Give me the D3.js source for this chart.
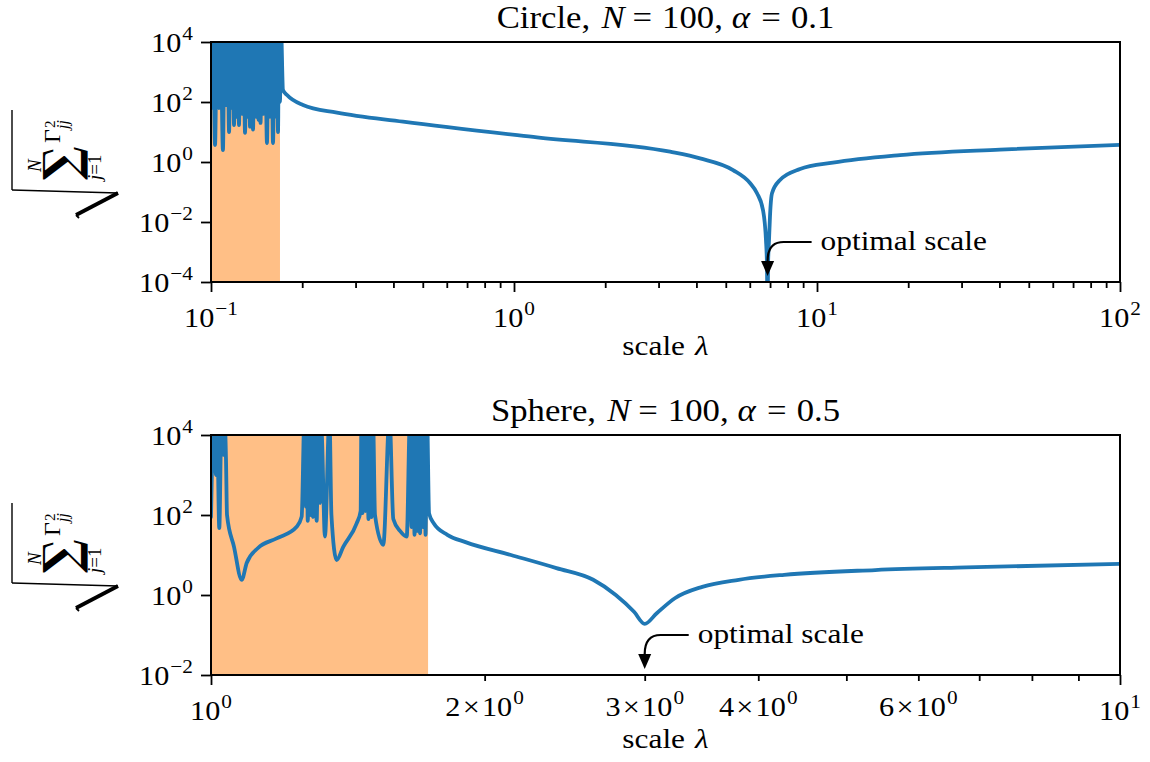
<!DOCTYPE html>
<html>
<head>
<meta charset="utf-8">
<script src="https://cdn.jsdelivr.net/npm/d3@7"></script>
<style>
  body { margin: 0; background: #fff; }
  text { font-family: "Liberation Serif", "DejaVu Serif", serif; fill: #000; }
</style>
</head>
<body>
<svg id="fig" width="1150" height="762"></svg>
<script>
// ---- Circle, N = 100, alpha = 0.1 ----
const circleLambda = [0.1000,0.1015,0.1031,0.1047,0.1063,0.1075,0.1095,0.1108,0.1121,0.1134,
  0.1147,0.1160,0.1173,0.1182,0.1191,0.1205,0.1218,0.1228,0.1237,0.1251,
  0.1266,0.1280,0.1295,0.1310,0.1325,0.1335,0.1345,0.1360,0.1376,0.1392,
  0.1408,0.1418,0.1435,0.1446,0.1457,0.1473,0.1490,0.1507,0.1530,0.1548,
  0.1565,0.1583,0.1602,0.1620,0.1639,0.1651,0.1664,0.1676,0.1689,0.1702,
  0.1728,0.1782,0.2012,0.2605,0.4302,1.191,3.273,
  4.111,5.283,6.009,6.339,6.634,6.786,6.839,6.866,6.891,6.944,6.997,7.104,7.55,8.791,11.29,18.79,40.18,100];
const circleGamma = [63,3e4,3.7,3e4,63,3e4,2.5,3e4,79,3e4,
  10,3e4,63,3e4,17,3e4,32,3e4,17,3e4,
  40,3e4,9.3,3e4,32,3e4,15,3e4,12,3e4,
  32,3e4,25,3e4,20,3e4,40,3e4,4.3,3e4,
  32,3e4,4.3,3e4,32,3e4,10,3e4,100,3e4,
  250,170,79,44,22,6.6,2.2,
  1.32,0.54,0.2,0.091,0.025,0.0025,3.2e-4,1e-6,3.2e-4,0.0025,0.016,0.091,0.25,0.58,0.95,1.7,2.6,3.7];
const circleUnstableEnd = 0.1689;
const circleOptimal = 6.87;
const circleXDomain = [0.1, 100];
const circleYDomain = [1e-4, 1e4];
const circleXMajor = [0.1, 1, 10, 100];
const circleXMajorLabels = [["10", "−1"], ["10", "0"], ["10", "1"], ["10", "2"]];
const circleYTicks = [1e-4, 1e-2, 1, 1e2, 1e4];
const circleYLabels = [["10", "−4"], ["10", "−2"], ["10", "0"], ["10", "2"], ["10", "4"]];

// ---- Sphere, N = 100, alpha = 0.5 ----
const sphereLambda = [1.000,1.0076,1.0127,1.0153,1.0212,1.0270,1.0322,1.0348,1.0387,1.0414,
  1.0600,1.0808,1.0946,1.1265,1.1809,1.2424,1.2582,1.2671,1.2720,1.2745,
  1.2777,1.2832,1.2881,1.2915,1.2947,1.2996,1.3069,1.3128,1.3178,1.3228,
  1.3346,1.3499,1.3567,1.3747,1.3979,1.4462,1.4609,1.4638,1.4678,1.4733,
  1.4789,1.4845,1.4902,1.4959,1.5016,1.5073,1.5150,1.5472,1.5717,1.5869,
  1.6141,1.6418,1.6556,1.6619,1.6683,1.6746,1.6810,1.6852,1.6917,1.6981,
  1.7046,1.7111,1.7176,1.7220,1.7286,1.7374,1.7579,1.8197,1.9055,2.138,
  2.399,2.633,2.788,2.920,3.0,3.093,3.238,3.471,3.806,4.271,
  5.379,6.773,10];
const sphereGamma = [89,3e4,1000,3e4,47,3e4,3200,3e4,2500,100,
  16,2.4,6.3,15,26,51,91,3e4,160,3e4,
  71,3e4,100,1.6e4,89,2e4,71,3e4,200,1.26e4,
  29,3e4,100,7.5,16,62,126,3e4,112,3e4,
  126,3e4,79,3e4,89,3e4,100,18,3e4,79,
  40,29,3e4,50,3e4,32,3e4,40,3e4,35,
  3e4,50,3e4,32,3e4,110,62,32,21,10,
  4.7,2.4,1.0,0.38,0.19,0.35,0.83,1.6,2.4,3.2,
  4.2,4.9,6.0];
const sphereUnstableEnd = 1.733;
const sphereOptimal = 3.0;
const sphereXDomain = [1, 10];
const sphereYDomain = [1e-2, 1e4];
const sphereXMajor = [1, 10];
const sphereXMajorLabels = [["10", "0"], ["10", "1"]];
const sphereXMinorLabelled = [2, 3, 4, 6];
const sphereXMinorLabels = [["2", "0"], ["3", "0"], ["4", "0"], ["6", "0"]];
const sphereYTicks = [1e-2, 1, 1e2, 1e4];
const sphereYLabels = [["10", "−2"], ["10", "0"], ["10", "2"], ["10", "4"]];

const LINE_BLUE = "#1f77b4";
const SHADE = "#ffbf86";
const LEFT = 211, RIGHT = 1120, PLOT_H = 240;
const TICK_FS = 27, SUP_FS = 19, LABEL_FS = 28, TITLE_FS = 31;
const MAJOR_LEN = 10, MINOR_LEN = 6;
const SX = 1.12; // horizontal stretch for the book-style serif text

const svg = d3.select("#fig");
const defs = svg.append("defs");

// text element placed at (x, y) and widened horizontally
function stext(x, y, fs, anchor) {
  return svg.append("g").attr("transform", `translate(${x},${y}) scale(${SX},1)`)
    .append("text").attr("font-size", fs).attr("text-anchor", anchor);
}

// base with a raised exponent, e.g. 10^-4
function powerLabel(sel, base, exp) {
  sel.append("tspan").text(base);
  sel.append("tspan").attr("font-size", SUP_FS).attr("dx", 1).attr("dy", -12).text(exp);
}

function minorTicks(domain) {
  const out = [];
  for (let d = Math.log10(domain[0]); d < Math.log10(domain[1]); d++) {
    for (let m = 2; m <= 9; m++) out.push(m * Math.pow(10, d));
  }
  return out;
}

// radical label sqrt(sum_{j=1}^N Gamma_jj^2), drawn rotated along the y axis
const measureCtx = document.createElement("canvas").getContext("2d");
function fitGlyph(g, ch, family, weight, u0, v0, w, h) {
  measureCtx.font = `${weight} 100px ${family}`;
  const m = measureCtx.measureText(ch);
  const inkW = m.actualBoundingBoxLeft + m.actualBoundingBoxRight;
  const inkH = m.actualBoundingBoxAscent + m.actualBoundingBoxDescent;
  const sx = w / inkW, sy = h / inkH;
  g.append("text")
    .attr("transform", `translate(${u0 + m.actualBoundingBoxLeft * sx},${v0 + m.actualBoundingBoxAscent * sy}) scale(${sx},${sy})`)
    .style("font-family", family).attr("font-weight", weight).attr("font-size", 100).text(ch);
}

function yLabel(top) {
  const g = svg.append("g").attr("transform", `translate(0,${top}) rotate(-90)`);
  const stroke = (pts, w) => g.append("path").attr("d", d3.line()(pts))
    .attr("fill", "none").attr("stroke", "#000").attr("stroke-width", w)
    .attr("stroke-linecap", "butt");
  stroke([[-148, 12], [-68, 12]], 1.4);
  stroke([[-148, 12], [-151, 118]], 1.4);
  stroke([[-151, 118], [-173, 76]], 3.8);
  stroke([[-173, 76], [-176, 79]], 1.8);
  fitGlyph(g, "∑", "DejaVu Serif", "bold", -138, 43, 33, 45);
  g.append("text").attr("x", -130).attr("y", 41).attr("font-size", 19)
    .attr("font-style", "italic").text("N");
  const sub = g.append("text").attr("x", -138).attr("y", 101).attr("font-size", 19);
  sub.append("tspan").attr("font-style", "italic").text("j");
  sub.append("tspan").text("=1");
  g.append("text").attr("x", -101).attr("y", 60).attr("font-size", 24).text("Γ");
  g.append("text").attr("x", -86).attr("y", 55).attr("font-size", 15).text("2");
  g.append("text").attr("x", -87).attr("y", 68).attr("font-size", 16)
    .attr("font-style", "italic").text("jj");
}

function panel(cfg) {
  const top = cfg.top, bottom = top + PLOT_H;
  const x = d3.scaleLog().domain(cfg.xDomain).range([LEFT, RIGHT]);
  const y = d3.scaleLog().domain(cfg.yDomain).range([bottom, top]);
  const clipId = cfg.id + "-clip";
  defs.append("clipPath").attr("id", clipId).append("rect")
    .attr("x", LEFT).attr("y", top).attr("width", RIGHT - LEFT).attr("height", PLOT_H);

  // unstable range of lambda
  svg.append("rect")
    .attr("x", x(cfg.xDomain[0])).attr("y", top)
    .attr("width", x(cfg.unstableEnd) - x(cfg.xDomain[0])).attr("height", PLOT_H)
    .attr("fill", SHADE);

  const line = d3.line().x(d => x(d[0])).y(d => y(d[1])).curve(d3.curveMonotoneX);
  svg.append("path").datum(d3.zip(cfg.lambda, cfg.gamma))
    .attr("clip-path", `url(#${clipId})`)
    .attr("d", line).attr("fill", "none")
    .attr("stroke", LINE_BLUE).attr("stroke-width", 3.8)
    .attr("stroke-linejoin", "round").attr("stroke-linecap", "round");

  // x axis: minor then major ticks
  const xa = svg.append("g").attr("transform", `translate(0,${bottom})`);
  xa.append("g").call(d3.axisBottom(x).tickValues(minorTicks(cfg.xDomain)).tickSize(MINOR_LEN).tickFormat(""));
  xa.append("g").call(d3.axisBottom(x).tickValues(cfg.xMajor).tickSize(MAJOR_LEN).tickFormat(""));
  xa.selectAll(".domain").remove();
  xa.selectAll(".tick line").attr("stroke", "#000").attr("stroke-width", 1.8);
  cfg.xMajor.forEach((v, i) => {
    const t = stext(x(v), bottom + 45, TICK_FS, "middle");
    powerLabel(t, cfg.xMajorLabels[i][0], cfg.xMajorLabels[i][1]);
  });
  (cfg.xMinorLabelled || []).forEach((v, i) => {
    const t = stext(x(v), bottom + 41, TICK_FS, "middle");
    t.append("tspan").text(cfg.xMinorLabels[i][0]);
    t.append("tspan").attr("dx", 2).text("×");
    t.append("tspan").attr("dx", 2).text("10");
    t.append("tspan").attr("font-size", SUP_FS).attr("dx", 1).attr("dy", -12).text(cfg.xMinorLabels[i][1]);
  });

  // y axis
  const ya = svg.append("g").attr("transform", `translate(${LEFT},0)`);
  ya.call(d3.axisLeft(y).tickValues(cfg.yTicks).tickSize(MAJOR_LEN).tickFormat(""));
  ya.select(".domain").remove();
  ya.selectAll(".tick line").attr("stroke", "#000").attr("stroke-width", 1.8);
  cfg.yTicks.forEach((v, i) => {
    const t = stext(LEFT - 18, y(v) + 10, TICK_FS, "end");
    powerLabel(t, cfg.yLabels[i][0], cfg.yLabels[i][1]);
  });

  // frame
  svg.append("rect").attr("x", LEFT).attr("y", top).attr("width", RIGHT - LEFT).attr("height", PLOT_H)
    .attr("fill", "none").attr("stroke", "#000").attr("stroke-width", 2);

  // title
  const title = stext((LEFT + RIGHT) / 2, top - 14, TITLE_FS, "middle");
  title.append("tspan").text(cfg.name + ",");
  title.append("tspan").attr("dx", 10).attr("font-style", "italic").text("N");
  title.append("tspan").attr("dx", 7).text("=");
  title.append("tspan").attr("dx", 9).text("100,");
  title.append("tspan").attr("dx", 8).attr("font-style", "italic").text("α");
  title.append("tspan").attr("dx", 10).text("=");
  title.append("tspan").attr("dx", 9).text(cfg.alpha);

  // x label
  const xl = stext((LEFT + RIGHT) / 2, bottom + 73, LABEL_FS, "middle");
  xl.append("tspan").text("scale");
  xl.append("tspan").attr("dx", 9).attr("font-style", "italic").text("λ");

  yLabel(top);

  // annotation of the optimal scale
  const tx = x(cfg.optimal), ty = bottom - 6;
  const ann = svg.append("g");
  ann.append("path")
    .attr("d", `M${tx + 44},${ty - 34} L${tx + 16},${ty - 34} Q${tx},${ty - 34} ${tx},${ty - 15}`)
    .attr("fill", "none").attr("stroke", "#000").attr("stroke-width", 2.2);
  ann.append("path")
    .attr("d", `M${tx - 6.5},${ty - 15} L${tx + 6.5},${ty - 15} L${tx},${ty} Z`)
    .attr("fill", "#000");
  const at = stext(tx + 53, ty - 26, 28, "start");
  at.append("tspan").text("optimal");
  at.append("tspan").attr("dx", 7).text("scale");
}

panel({
  id: "circle", top: 42, name: "Circle", alpha: "0.1",
  lambda: circleLambda, gamma: circleGamma,
  unstableEnd: circleUnstableEnd, optimal: circleOptimal,
  xDomain: circleXDomain, yDomain: circleYDomain,
  xMajor: circleXMajor, xMajorLabels: circleXMajorLabels,
  yTicks: circleYTicks, yLabels: circleYLabels
});

panel({
  id: "sphere", top: 435, name: "Sphere", alpha: "0.5",
  lambda: sphereLambda, gamma: sphereGamma,
  unstableEnd: sphereUnstableEnd, optimal: sphereOptimal,
  xDomain: sphereXDomain, yDomain: sphereYDomain,
  xMajor: sphereXMajor, xMajorLabels: sphereXMajorLabels,
  xMinorLabelled: sphereXMinorLabelled, xMinorLabels: sphereXMinorLabels,
  yTicks: sphereYTicks, yLabels: sphereYLabels
});
</script>
</body>
</html>
